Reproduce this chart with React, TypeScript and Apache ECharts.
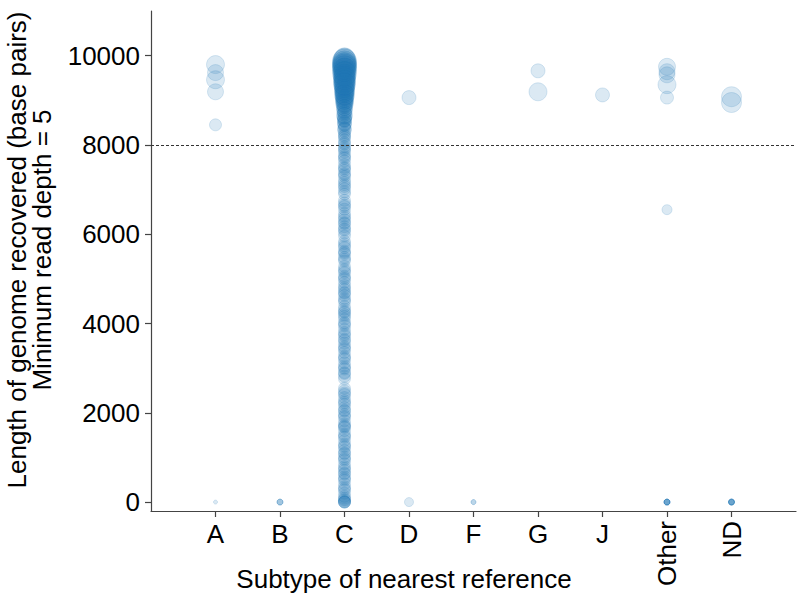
import React, { useEffect, useRef } from "react";
import * as echarts from "echarts";

const categories = ["A", "B", "C", "D", "F", "G", "J", "Other", "ND"];
const yTicks = [0, 2000, 4000, 6000, 8000, 10000];
const thresholdValue = 8000;

// [genome length, marker size]
const subtypeA = [[9800, 18], [9620, 16], [9460, 18], [9190, 16], [8450, 12], [0, 4]];
const subtypeB = [[0, 6], [0, 6], [0, 6]];
const subtypeCTop = [
  [9950, 20], [9920, 22], [9900, 22], [9880, 24], [9860, 22], [9840, 24], [9820, 22], [9800, 24],
  [9790, 22], [9770, 24], [9750, 22], [9730, 24], [9720, 20], [9700, 22], [9680, 24], [9660, 22],
  [9640, 20], [9620, 22], [9600, 24], [9580, 20], [9560, 22], [9540, 20], [9520, 22], [9500, 20],
  [9480, 22], [9460, 20], [9440, 20], [9420, 22], [9400, 20], [9380, 20], [9360, 22], [9340, 20],
  [9320, 20], [9300, 18], [9280, 20], [9260, 18], [9240, 20], [9220, 18], [9200, 20], [9180, 18],
  [9160, 18], [9140, 18], [9120, 20], [9100, 18], [9080, 18], [9060, 16], [9040, 18], [9020, 16],
  [9000, 18], [8980, 16], [8960, 16], [8940, 18], [8920, 16], [8890, 16], [8860, 14], [8840, 16],
  [8810, 14], [8780, 16], [8750, 14], [8720, 14], [8690, 14], [8660, 16], [8630, 14], [8600, 14],
  [8570, 14], [8550, 14], [8530, 12], [8490, 14], [8460, 14], [8440, 12], [8390, 12], [8360, 13],
  [8340, 14], [8280, 12], [8230, 12], [8200, 12], [8170, 12], [8110, 12], [8050, 12], [8020, 12],
];
const subtypeCLow = [
  [7960, 12], [7920, 12], [7890, 12], [7840, 12], [7770, 12], [7730, 12], [7700, 12], [7640, 12],
  [7560, 12], [7500, 12], [7470, 12], [7430, 12], [7360, 12], [7330, 12], [7290, 12], [7210, 12],
  [7160, 12], [7110, 12], [7070, 12], [7020, 12], [6950, 12], [6900, 12],
  [6760, 12], [6700, 12], [6650, 12], [6620, 12], [6560, 12], [6470, 12], [6410, 12], [6370, 12],
  [6320, 12], [6260, 12], [6240, 12], [6170, 12], [6120, 12], [6090, 12], [6030, 12], [5960, 12],
  [5840, 12], [5790, 12], [5740, 12], [5700, 12], [5620, 12], [5590, 12], [5560, 12], [5480, 12],
  [5440, 12], [5400, 12],
  [5280, 12], [5220, 12], [5180, 12], [5140, 12], [5060, 12], [5020, 12], [4990, 12], [4920, 12],
  [4850, 12], [4800, 12], [4760, 12], [4700, 12], [4680, 12], [4630, 12], [4560, 12], [4520, 12],
  [4480, 12],
  [4380, 12], [4320, 12], [4270, 12], [4250, 12], [4200, 12], [4160, 12], [4100, 12], [4020, 12],
  [3990, 12], [3950, 12], [3870, 12], [3800, 12], [3760, 12], [3720, 12], [3650, 12], [3620, 12],
  [3560, 12], [3490, 12], [3450, 12], [3420, 12], [3350, 12], [3270, 12], [3230, 12], [3200, 12],
  [3120, 12], [3050, 12], [3010, 12], [2980, 12], [2900, 12], [2880, 12], [2820, 12], [2760, 12],
  [2550, 12], [2490, 12], [2440, 12], [2410, 12], [2340, 12], [2270, 12], [2230, 12], [2190, 12],
  [2120, 12], [2060, 12], [2040, 12], [1970, 12], [1930, 12], [1900, 12], [1820, 12], [1750, 12],
  [1710, 12], [1690, 12], [1670, 12], [1600, 12], [1520, 12], [1480, 12], [1450, 12], [1380, 12],
  [1300, 12], [1260, 12], [1230, 12], [1160, 12], [1100, 12], [1080, 12], [1010, 12], [970, 12],
  [940, 12], [860, 12], [790, 12], [750, 12], [710, 12], [650, 12], [630, 12], [560, 12],
  [520, 12], [490, 12], [410, 12], [340, 12], [300, 12], [270, 12], [200, 12], [130, 12],
  [90, 12], [60, 12], [40, 12], [10, 12], [0, 12], [0, 12], [0, 12],
];
const subtypeD = [[9060, 14], [0, 9]];
const subtypeF = [[0, 5], [0, 5]];
const subtypeG = [[9660, 14], [9190, 18]];
const subtypeJ = [[9120, 14]];
const subtypeOther = [[9750, 17], [9640, 16], [9570, 16], [9350, 18], [9060, 13], [6550, 10], [0, 6], [0, 6], [0, 6], [0, 6], [0, 6], [0, 6]];
const subtypeND = [[9080, 20], [8950, 20], [0, 6], [0, 6], [0, 6], [0, 6], [0, 6], [0, 6]];

const groups = [subtypeA, subtypeB, subtypeCTop.concat(subtypeCLow), subtypeD, subtypeF, subtypeG, subtypeJ, subtypeOther, subtypeND];

const FONT = "'Liberation Sans', Arial, sans-serif";
const FS = 26;

export default function App() {
  const ref = useRef<HTMLDivElement>(null);
  useEffect(() => {
    if (!ref.current) return;
    const chart = echarts.init(ref.current, null, { renderer: "svg" });
    const points: number[][] = [];
    groups.forEach((g, i) => {
      g.forEach((p) => points.push([i + 1, p[0], p[1]]));
    });
    const axisColor = "#444";
    chart.setOption({
      animation: false,
      grid: { left: 151, right: 4, top: 11, bottom: 89 },
      xAxis: [
        {
          type: "value",
          min: 0,
          max: 10,
          position: "bottom",
          splitLine: { show: false },
          axisLine: { show: true, onZero: false, lineStyle: { color: axisColor, width: 1.2 } },
          axisTick: { show: true, length: 6, customValues: [1, 2, 3, 4, 5, 6, 7, 8, 9], lineStyle: { color: axisColor, width: 1.2 } },
          axisLabel: {
            customValues: [1, 2, 3, 4, 5, 6, 7],
            formatter: (v: number) => categories[Math.round(v) - 1] ?? "",
            color: "#000",
            fontSize: FS,
            fontFamily: FONT,
            margin: 10,
          },
        },
        {
          type: "value",
          min: 0,
          max: 10,
          position: "bottom",
          offset: 0,
          splitLine: { show: false },
          axisLine: { show: false },
          axisTick: { show: false },
          axisLabel: {
            customValues: [8, 9],
            rotate: 90,
            formatter: (v: number) => categories[Math.round(v) - 1] ?? "",
            color: "#000",
            fontSize: FS,
            fontFamily: FONT,
            margin: 10,
          },
        },
      ],
      yAxis: {
        type: "value",
        min: -200,
        max: 11000,
        splitLine: { show: false },
        axisLine: { show: true, onZero: false, lineStyle: { color: axisColor, width: 1.2 } },
        axisTick: { show: true, length: 6, customValues: yTicks, lineStyle: { color: axisColor, width: 1.2 } },
        axisLabel: {
          customValues: yTicks,
          formatter: (v: number) => String(v),
          color: "#000",
          fontSize: FS,
          fontFamily: FONT,
          margin: 11,
        },
      },
      graphic: [
        {
          type: "text",
          x: 17,
          y: 250,
          rotation: Math.PI / 2,
          style: {
            text: "Length of genome recovered (base pairs)",
            fontSize: FS,
            fontFamily: FONT,
            fill: "#000",
            align: "center",
            verticalAlign: "middle",
          },
        },
        {
          type: "text",
          x: 42,
          y: 250,
          rotation: Math.PI / 2,
          style: {
            text: "Minimum read depth = 5",
            fontSize: FS,
            fontFamily: FONT,
            fill: "#000",
            align: "center",
            verticalAlign: "middle",
          },
        },
        {
          type: "text",
          x: 404,
          y: 579,
          style: {
            text: "Subtype of nearest reference",
            fontSize: FS,
            fontFamily: FONT,
            fill: "#000",
            align: "center",
            verticalAlign: "middle",
          },
        },
      ],
      series: [
        {
          type: "scatter",
          xAxisIndex: 0,
          data: points,
          symbol: "circle",
          symbolSize: (v: number[]) => v[2],
          itemStyle: {
            color: "rgba(31,119,180,0.2)",
            borderColor: "rgba(31,119,180,0.2)",
            borderWidth: 1,
          },
          markLine: {
            silent: true,
            symbol: "none",
            label: { show: false },
            lineStyle: { color: "#333", width: 1, type: [3, 2] },
            data: [{ yAxis: thresholdValue }],
          },
        },
      ],
    });
    return () => chart.dispose();
  }, []);
  return (
    <div
      ref={ref}
      style={{ position: "fixed", left: 0, top: 0, width: 800, height: 600, background: "#fff" }}
    />
  );
}
